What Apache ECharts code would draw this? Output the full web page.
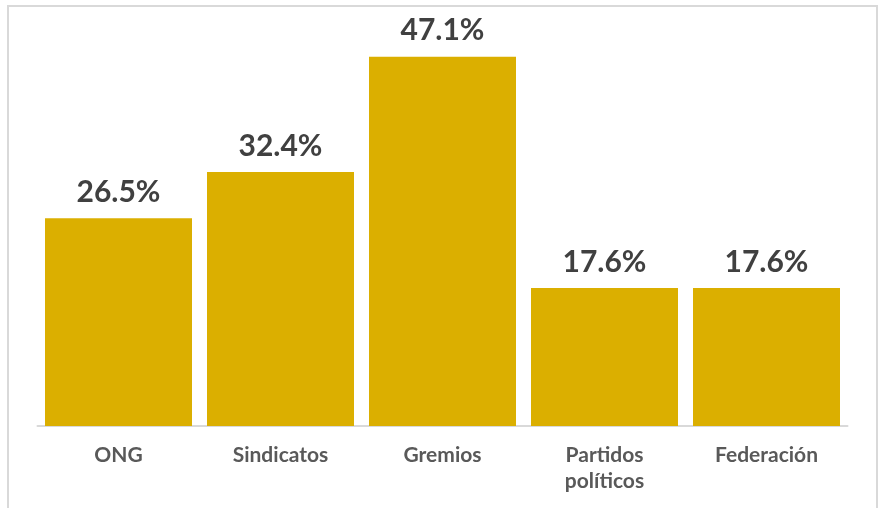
<!DOCTYPE html>
<html><head><meta charset="utf-8">
<script src="https://cdn.jsdelivr.net/npm/echarts@6/dist/echarts.min.js"></script>
<style>html,body{margin:0;padding:0;background:#fff}#c{width:882px;height:508px}</style>
</head><body><div id="c"></div>
<script>
const categories = ['ONG', 'Sindicatos', 'Gremios', 'Partidos\npolíticos', 'Federación'];
const values = [26.5, 32.4, 47.1, 17.6, 17.6];

const chart = echarts.init(document.getElementById('c'), null, {renderer: 'canvas'});
chart.setOption({
  animation: false,
  backgroundColor: '#fff',
  graphic: [{
    type: 'rect', shape: {x: 8, y: 6, width: 869, height: 530},
    style: {fill: 'none', stroke: '#d9d9d9', lineWidth: 2}, silent: true
  }],
  grid: {left: 37.5, right: 34.5, top: 34, bottom: 82, containLabel: false},
  xAxis: {
    type: 'category', data: categories,
    axisLine: {lineStyle: {color: '#d9d9d9', width: 2}},
    axisTick: {show: false},
    axisLabel: {fontFamily: 'Lato', fontWeight: 'bold', fontSize: 21, color: '#595959', margin: 16, lineHeight: 26, verticalAlign: 'top', interval: 0}
  },
  yAxis: {type: 'value', min: 0, max: 50, show: false, splitLine: {show: false}},
  series: [{
    type: 'bar', data: values, barWidth: 147,
    itemStyle: {color: '#DBAF00'},
    label: {show: true, position: 'top', distance: 11, formatter: p => p.value.toFixed(1) + '%',
      fontFamily: 'Lato', fontWeight: 'bold', fontSize: 30, color: '#404040'}
  }]
});
</script></body></html>
